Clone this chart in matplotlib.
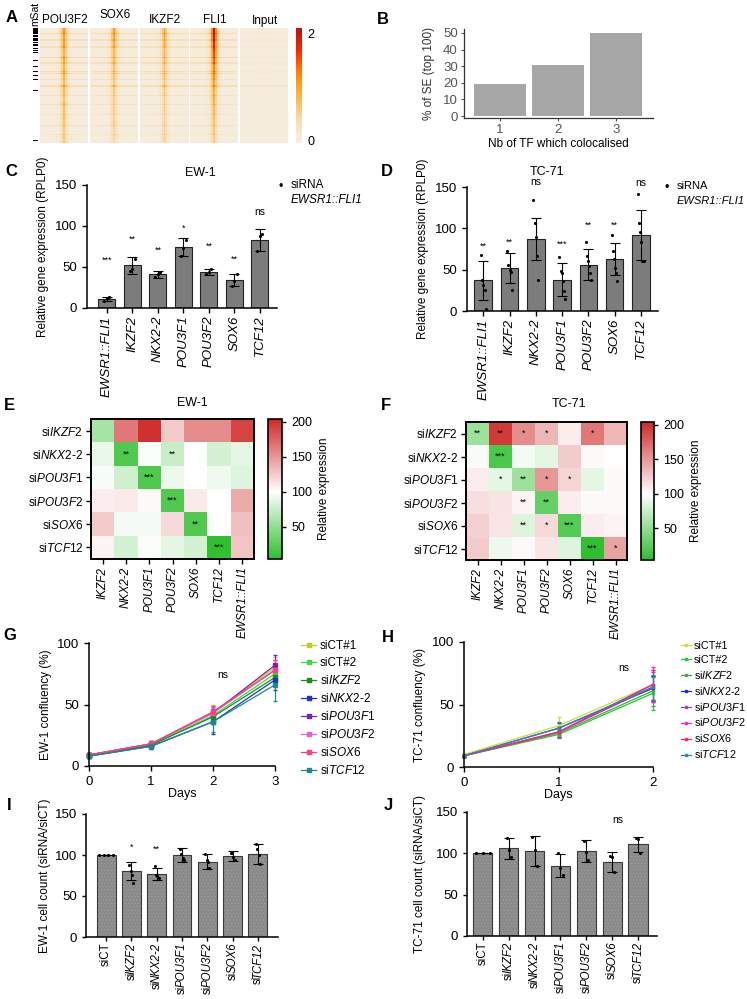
import numpy as np
import matplotlib
matplotlib.use('Agg')
import matplotlib.pyplot as plt
import matplotlib.transforms as mtransforms
from matplotlib.colors import LinearSegmentedColormap, Normalize
from matplotlib.lines import Line2D

plt.rcParams['font.family'] = ['Liberation Sans', 'DejaVu Sans']
plt.rcParams['mathtext.fontset'] = 'custom'
plt.rcParams['mathtext.rm'] = 'Liberation Sans'
plt.rcParams['mathtext.it'] = 'Liberation Sans:italic'
plt.rcParams['mathtext.bf'] = 'Liberation Sans:bold'
plt.rcParams['font.size'] = 8.5
plt.rcParams['axes.linewidth'] = 1.1
plt.rcParams['hatch.linewidth'] = 0.4

# ---------------- data ----------------
# A: ChIP-seq heatmaps (summit strength per block of 4 regions, top to bottom)
chip_names = ['POU3F2', 'SOX6', 'IKZF2', 'FLI1', 'Input']
strength_pou3f2 = [1.1, 1.0, 0.9, 1.0, 0.9, 0.8, 0.9, 0.8, 0.8, 0.85, 0.75, 0.7, 0.75, 0.75, 0.7, 0.65, 0.75, 0.65, 0.65, 0.7, 0.6, 0.6, 0.55, 0.6, 0.6]
strength_sox6 = [1.0, 0.95, 0.9, 0.85, 0.8, 0.8, 0.7, 0.75, 0.65, 0.65, 0.65, 0.6, 0.6, 0.55, 0.55, 0.5, 0.5, 0.5, 0.5, 0.45, 0.5, 0.45, 0.4, 0.4, 0.4]
strength_ikzf2 = [1.05, 1.0, 0.9, 0.95, 0.85, 0.9, 0.8, 0.8, 0.75, 0.7, 0.75, 0.65, 0.7, 0.65, 0.65, 0.6, 0.55, 0.6, 0.55, 0.5, 0.55, 0.5, 0.5, 0.5, 0.5]
strength_fli1 = [2.1, 2.0, 1.9, 1.7, 1.6, 1.5, 1.4, 1.3, 1.2, 1.15, 1.1, 1.0, 0.95, 0.9, 0.85, 0.85, 0.8, 0.75, 0.75, 0.7, 0.65, 0.65, 0.6, 0.55, 0.55]
strength_input = [0.03] * 25
summit_profile = [0, 0, 0, 0, 0, 0, 0, 0, 0.02, 0.06, 0.18, 0.55, 1.0, 0.55, 0.18, 0.06, 0.02,
                  0, 0, 0, 0, 0, 0, 0, 0]
streak_rows = [4, 10, 16, 25, 30, 37, 39, 44, 50, 58, 66, 75, 84, 92]
streak_level = [0.35, 0.25, 0.25, 0.4, 0.25, 0.3, 0.3, 0.2, 0.3, 0.2, 0.2, 0.15, 0.2, 0.15]
msat_rows = [0, 1, 2, 3, 4, 6, 7, 9, 10, 12, 14, 15, 17, 19, 21, 28, 33, 37, 41, 44, 54, 97]

# B
tf_counts = [1, 2, 3]
se_percent = [19, 31, 50]

# C / D
genes = ['EWSR1::FLI1', 'IKZF2', 'NKX2-2', 'POU3F1', 'POU3F2', 'SOX6', 'TCF12']
c_mean = [11, 52, 41, 74, 44, 34, 83]
c_sd = [2.5, 10, 4, 11, 3.5, 7, 13]
c_points = [[9, 12, 13], [45, 48, 60], [38, 42, 44], [64, 73, 83], [41, 44, 47], [27, 33, 41], [69, 88, 90]]
c_stars = ['***', '**', '**', '*', '**', '**', 'ns']
c_star_y = [58, 84, 70, 97, 75, 59, 117]

d_mean = [37, 52, 87, 38, 56, 63, 92]
d_sd = [24, 18, 25, 20, 19, 19, 30]
d_points = [[68, 37, 31, 25, 3], [72, 56, 50, 47, 25], [134, 106, 90, 66, 38],
            [65, 48, 46, 36, 24, 14], [83, 67, 60, 54, 46, 37], [92, 73, 63, 52, 46, 36],
            [142, 107, 96, 83, 61, 60]]
d_stars = ['**', '**', 'ns', '***', '**', '**', 'ns']
d_star_y = [78, 83, 156, 81, 104, 104, 155]

# E / F heatmaps (rows: siRNA, cols: genes)
heat_cols = ['IKZF2', 'NKX2-2', 'POU3F1', 'POU3F2', 'SOX6', 'TCF12', 'EWSR1::FLI1']
heat_rows = ['IKZF2', 'NKX2-2', 'POU3F1', 'POU3F2', 'SOX6', 'TCF12']
e_vals = [[60, 165, 200, 125, 155, 155, 190],
          [90, 20, 98, 75, 100, 80, 88],
          [97, 78, 20, 92, 100, 93, 85],
          [108, 110, 103, 20, 110, 100, 140],
          [125, 95, 95, 118, 20, 100, 130],
          [105, 80, 98, 88, 80, 5, 128]]
e_stars = [['', '', '', '', '', '', ''],
           ['', '**', '', '**', '', '', ''],
           ['', '', '***', '', '', '', ''],
           ['', '', '', '***', '', '', ''],
           ['', '', '', '', '**', '', ''],
           ['', '', '', '', '', '***', '']]
f_vals = [[55, 195, 155, 135, 108, 165, 135],
          [97, 18, 95, 88, 125, 103, 100],
          [108, 88, 55, 150, 120, 88, 102],
          [115, 113, 104, 30, 108, 102, 102],
          [122, 112, 85, 118, 22, 108, 105],
          [125, 92, 103, 112, 85, 5, 145]]
f_stars = [['**', '**', '*', '*', '', '*', ''],
           ['', '***', '', '', '', '', ''],
           ['', '*', '**', '*', '*', '', ''],
           ['', '', '**', '**', '', '', ''],
           ['', '', '**', '*', '***', '', ''],
           ['', '', '', '', '', '***', '*']]

# G / H growth curves
conditions = ['siCT#1', 'siCT#2', 'IKZF2', 'NKX2-2', 'POU3F1', 'POU3F2', 'SOX6', 'TCF12']
g_days = [0, 1, 2, 3]
g_mean = [[9, 18, 44, 80], [9, 17, 41, 75], [9, 17, 40, 72], [8, 16, 36, 70],
          [9, 18, 43, 82], [9, 18, 43, 78], [9, 18, 44, 78], [8, 16, 36, 66]]
g_sd = [[1.5, 2, 6, 9], [1.5, 2, 5, 7], [1.5, 2, 5, 7], [1.5, 2, 10, 8],
        [1.5, 2, 5, 8], [1.5, 2, 5, 8], [1.5, 2, 5, 8], [1.5, 2, 8, 13]]
g_colors = ['#c8c81e', '#3fd83f', '#129412', '#2233cc', '#7a22b8', '#e060e0', '#ff3d7f', '#1f8a8a']
h_days = [0, 1, 2]
h_mean = [[10, 33, 66], [9, 26, 59], [9, 27, 61], [9, 31, 63],
          [9, 28, 64], [9, 28, 66], [9, 28, 66], [9, 31, 64]]
h_sd = [[1, 7, 12], [1, 3, 13], [1, 3, 12], [1, 4, 10], [1, 4, 12], [1, 4, 14], [1, 4, 12], [1, 5, 10]]
h_colors = ['#d8d830', '#22cc22', '#44aa44', '#1a2ed0', '#a040c0', '#ee22ee', '#ff2277', '#1e90b0']

# I / J cell counts
count_labels = ['CT', 'IKZF2', 'NKX2-2', 'POU3F1', 'POU3F2', 'SOX6', 'TCF12']
i_mean = [100, 80, 77, 100, 92, 99, 101]
i_sd = [0, 11, 7, 9, 9, 6, 12]
i_points = [[100, 100, 100, 100], [88, 80, 76, 66], [87, 76, 74, 72], [107, 101, 96, 94],
            [101, 94, 92, 84], [103, 102, 98, 94], [114, 107, 100, 89]]
i_stars = ['', '*', '**', '', '', '', '']
i_star_y = [0, 110, 107, 0, 0, 0, 0]
j_mean = [100, 106, 103, 85, 103, 90, 111]
j_sd = [0, 13, 18, 14, 13, 12, 9]
j_points = [[100, 100, 100], [118, 104, 96], [120, 104, 85], [100, 82, 74],
            [115, 102, 92], [97, 95, 77], [119, 117, 100]]

# ---------------- figure ----------------
W, H = 747, 999
fig = plt.figure(figsize=(W / 100, H / 100), dpi=100)
renderer = fig.canvas.get_renderer()


def box(x0, y0, x1, y1):
    return fig.add_axes([x0 / W, 1 - y1 / H, (x1 - x0) / W, (y1 - y0) / H])


def ftext(x, y, s, **kw):
    kw.setdefault('ha', 'center')
    kw.setdefault('va', 'center')
    fig.text(x / W, 1 - y / H, s, **kw)


def si(name):
    if name.startswith('siCT'):
        return name
    if name == 'CT':
        return 'siCT'
    return r'si$\mathit{' + name.replace('-', '\u2010') + '}$'


for letter, x, y in [('A', 12, 18), ('B', 383, 20), ('C', 11, 172), ('D', 387, 171),
                     ('E', 9, 405), ('F', 386, 405), ('G', 10, 636), ('H', 388, 637),
                     ('I', 9, 805), ('J', 388, 806)]:
    ftext(x, y, letter, fontsize=12, fontweight='bold')

# ---- A ----
chip_cmap = LinearSegmentedColormap.from_list(
    'chip', ['#f6efe4', '#f8dcae', '#ffb84a', '#ff8a00', '#ff2a00', '#b51414'])
chip_strengths = [strength_pou3f2, strength_sox6, strength_ikzf2, strength_fli1, strength_input]
streak = np.zeros(100)
streak[streak_rows] = streak_level
title_y = [20, 15, 20, 20, 21]
for k, name in enumerate(chip_names):
    x0 = 40 + 50 * k
    ax = box(x0, 28, x0 + 48, 143)
    rows = np.repeat(chip_strengths[k], 4)
    scale = 0.3 if name == 'Input' else 1.0
    img = 0.06 + np.outer(rows, summit_profile) + scale * streak[:, None] * np.ones(len(summit_profile))
    ax.imshow(img, cmap=chip_cmap, vmin=0, vmax=2.1, aspect='auto', interpolation='nearest')
    ax.set_xticks([])
    ax.set_yticks([])
    for sp in ax.spines.values():
        sp.set_visible(False)
    ftext(x0 + 25, title_y[k], name, fontsize=8.5)

ax = box(33, 28, 38, 143)
msat = np.zeros((100, 1))
msat[msat_rows] = 1
ax.imshow(msat, cmap='Greys', vmin=0, vmax=1, aspect='auto', interpolation='nearest')
ax.set_xticks([])
ax.set_yticks([])
for sp in ax.spines.values():
    sp.set_visible(False)
ftext(35, 14, 'mSat', rotation=90, fontsize=7.5)

cax = box(296, 28, 302, 143)
grad = np.linspace(2.1, 0, 100)[:, None]
cax.imshow(grad, cmap=chip_cmap, vmin=0, vmax=2.1, aspect='auto')
cax.set_xticks([])
cax.set_yticks([])
for sp in cax.spines.values():
    sp.set_visible(False)
ftext(307, 35, '2', fontsize=9, ha='left')
ftext(307, 142, '0', fontsize=9, ha='left')

# ---- B ----
ax = box(464, 29, 653, 118)
ax.bar(tf_counts, se_percent, width=0.9, color='#a6a6a6')
ax.set_xlim(0.38, 3.64)
ax.set_ylim(-1.2, 52.4)
ax.set_yticks([0, 10, 20, 30, 40, 50])
ax.set_xticks(tf_counts)
for s in ['top', 'right']:
    ax.spines[s].set_visible(False)
for s in ['left', 'bottom']:
    ax.spines[s].set_color('#333333')
    ax.spines[s].set_linewidth(0.9)
ax.tick_params(colors='#555555', labelsize=9.5, length=2.5, pad=2)
ax.set_xlabel('Nb of TF which colocalised', fontsize=8.5, labelpad=1)
ax.set_ylabel('% of SE (top 100)', fontsize=8.5, color='#333333')
ax.yaxis.set_label_coords(-0.155, 0.5)


# ---- C / D ----
def expr_bars(ax, means, sds, points, stars, star_y):
    x = np.arange(len(means))
    ax.bar(x, means, width=0.67, color='#7c7c7c', edgecolor='#222222', linewidth=0.8, zorder=1)
    ax.errorbar(x, means, yerr=sds, fmt='none', ecolor='black', elinewidth=0.8,
                capsize=3.5, capthick=0.8, zorder=3)
    for i, pts in enumerate(points):
        offs = np.linspace(-0.1, 0.1, len(pts))
        ax.scatter(i + offs, pts, s=5, color='black', zorder=4, clip_on=False, linewidths=0)
    for i, (s, y) in enumerate(zip(stars, star_y)):
        if s:
            ax.text(i, y, s, ha='center', va='center', fontsize=7.5 if s == 'ns' else 6.5, clip_on=False)
    ax.set_ylim(0, 150)
    ax.set_yticks([0, 50, 100, 150])
    ax.set_xticks(x)
    ax.set_xticklabels(genes, rotation=90, style='italic', fontsize=8.5)
    for s in ['top', 'right']:
        ax.spines[s].set_visible(False)
    ax.tick_params(labelsize=9.5, length=3.5, width=1)
    ax.tick_params(axis='x', pad=2)
    ax.set_ylabel('Relative gene expression (RPLP0)', fontsize=8.5)


ax = box(87, 185, 277, 308)
expr_bars(ax, c_mean, c_sd, c_points, c_stars, c_star_y)
ax.set_xlim(-0.78, 6.67)
ax.yaxis.set_label_coords(-0.2, 0.5)
ftext(200, 173, 'EW-1', fontsize=9)
ftext(281, 187, '•', fontsize=9)
ftext(291, 185, 'siRNA', fontsize=8.5, ha='left')
ftext(291, 200, 'EWSR1::FLI1', fontsize=8.5, ha='left', style='italic')

ax = box(467, 187, 658, 311)
expr_bars(ax, d_mean, d_sd, d_points, d_stars, d_star_y)
ax.set_xlim(-0.62, 6.65)
ax.yaxis.set_label_coords(-0.2, 0.5)
ftext(547, 172, 'TC-71', fontsize=9)
ftext(667, 188, '•', fontsize=9)
ftext(677, 186, 'siRNA', fontsize=8, ha='left')
ftext(677, 201, 'EWSR1::FLI1', fontsize=8, ha='left', style='italic')

# ---- E / F ----
rel_cmap = LinearSegmentedColormap.from_list(
    'rel', [(0, '#2dc02d'), (0.48, '#ffffff'), (1, '#d02828')])
rel_norm = Normalize(vmin=4, vmax=204)


def heat(ax, cax, vals, stars):
    im = ax.imshow(np.array(vals), cmap=rel_cmap, norm=rel_norm, aspect='auto')
    for r, row in enumerate(stars):
        for c, s in enumerate(row):
            if s:
                ax.text(c, r, s, ha='center', va='center', fontsize=6.5)
    ax.set_xticks(range(len(heat_cols)))
    ax.set_xticklabels(heat_cols, rotation=90, style='italic', fontsize=8.5)
    ax.set_yticks(range(len(heat_rows)))
    ax.set_yticklabels([si(n) for n in heat_rows], fontsize=8.5)
    ax.tick_params(length=3.5, width=1, pad=2)
    for sp in ax.spines.values():
        sp.set_linewidth(1.4)
    cb = fig.colorbar(im, cax=cax, ticks=[50, 100, 150, 200])
    cb.outline.set_linewidth(1.2)
    cax.tick_params(labelsize=9, length=3, width=1)
    cb.set_label('Relative expression', fontsize=8.5, labelpad=4)


heat(box(91, 419, 254, 559), box(268, 419, 282, 559), e_vals, e_stars)
ftext(192, 403, 'EW-1', fontsize=9)
heat(box(466, 422, 627, 560), box(641, 422, 654, 560), f_vals, f_stars)
ftext(569, 404, 'TC-71', fontsize=9)


# ---- G / H ----
def growth(ax, days, means, sds, colors, marker, ms):
    handles = []
    for m, s, col, name in zip(means, sds, colors, conditions):
        ax.errorbar(days, m, yerr=s, color=col, lw=0.9, marker=marker, ms=ms,
                    elinewidth=0.8, capsize=1.5, clip_on=False)
        handles.append(Line2D([], [], color=col, lw=0.9, marker=marker, ms=ms, label=si(name)))
    ax.set_ylim(0, 100)
    ax.set_yticks([0, 50, 100])
    ax.set_xticks(days)
    for s in ['top', 'right']:
        ax.spines[s].set_visible(False)
    ax.tick_params(labelsize=9.5, length=3.5, width=1)
    ax.set_xlabel('Days', fontsize=9, labelpad=0)
    return handles


ax = box(89, 643, 275, 766)
hd = growth(ax, g_days, g_mean, g_sd, g_colors, 's', 2.2)
ax.set_xlim(0, 3)
ax.set_ylabel('EW-1 confluency (%)', fontsize=8.5)
ax.yaxis.set_label_coords(-0.2, 0.5)
ax.text(2.16, 74, 'ns', ha='center', va='center', fontsize=7.5)
fig.legend(handles=hd, loc='upper left', bbox_to_anchor=(301 / W, 1 - 640 / H), frameon=False,
           fontsize=8.5, handlelength=1.3, handletextpad=0.3, labelspacing=0.42, borderpad=0,
           borderaxespad=0)

ax = box(464, 642, 653, 767)
hd = growth(ax, h_days, h_mean, h_sd, h_colors, 's', 1.5)
ax.set_xlim(0, 2)
ax.set_ylabel('TC-71 confluency (%)', fontsize=8.5)
ax.yaxis.set_label_coords(-0.2, 0.5)
ax.text(1.69, 79, 'ns', ha='center', va='center', fontsize=7.5)
fig.legend(handles=hd, loc='upper left', bbox_to_anchor=(681 / W, 1 - 641 / H), frameon=False,
           fontsize=7.8, handlelength=0.9, handletextpad=0.3, labelspacing=0.36, borderpad=0,
           borderaxespad=0)


# ---- I / J ----
def si_ticklabels(ax, names, fs):
    # "si" upright + gene name italic, written bottom-to-top under each tick
    ax.set_xticklabels([])
    base = ax.get_xaxis_transform()
    for i, n in enumerate(names):
        if n == 'CT':
            parts = [('siCT', 'normal')]
        else:
            parts = [(n, 'italic'), ('si', 'normal')]
        off = 5.5
        for txt, style in parts:
            tr = mtransforms.offset_copy(base, fig=fig, y=-off, units='dots')
            t = ax.text(i, 0, txt, transform=tr, rotation=90, rotation_mode='anchor',
                        ha='right', va='center', fontsize=fs, style=style)
            off += t.get_window_extent(renderer).height - 1.5


def counts(ax, means, sds, points):
    x = np.arange(len(means))
    ax.bar(x, means, width=0.75, color='#8a8a8a', edgecolor='#a2a2a2', linewidth=0,
           hatch='.....', zorder=1)
    ax.bar(x, means, width=0.75, fill=False, edgecolor='#3a3a3a', linewidth=0.8, zorder=2)
    ax.errorbar(x, means, yerr=sds, fmt='none', ecolor='black', elinewidth=0.8,
                capsize=3.5, capthick=0.8, zorder=3)
    for i, pts in enumerate(points):
        spread = 0.27 if i == 0 else 0.08
        offs = np.linspace(-spread, spread, len(pts))
        ax.scatter(i + offs, pts, s=5, color='black', zorder=4, linewidths=0)
    ax.set_ylim(0, 150)
    ax.set_yticks([0, 50, 100, 150])
    ax.set_xticks(x)
    ax.set_xlim(-0.7, len(means) - 0.3)
    for s in ['top', 'right']:
        ax.spines[s].set_visible(False)
    ax.tick_params(labelsize=9.5, length=3, width=1)
    si_ticklabels(ax, count_labels, 8.3)


ax = box(86, 814, 278, 937)
counts(ax, i_mean, i_sd, i_points)
ax.set_xlim(-0.79, 6.79)
for i, (s, y) in enumerate(zip(i_stars, i_star_y)):
    if s:
        ax.text(i, y, s, ha='center', va='center', fontsize=6.5)
ax.set_ylabel('EW-1 cell count (siRNA/siCT)', fontsize=8.5)
ax.yaxis.set_label_coords(-0.18, 0.5)

ax = box(467, 812, 657, 936)
counts(ax, j_mean, j_sd, j_points)
ax.set_xlim(-0.61, 6.73)
ax.text(5.2, 140, 'ns', ha='center', va='center', fontsize=7.5)
ax.set_ylabel('TC-71 cell count (siRNA/siCT)', fontsize=8.5)
ax.yaxis.set_label_coords(-0.215, 0.5)

fig.savefig('out.png', dpi=100)
